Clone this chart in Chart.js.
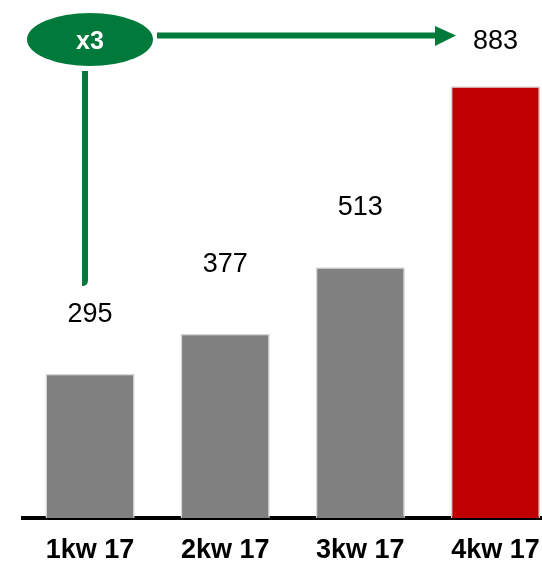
<!DOCTYPE html>
<html>
<head>
<meta charset="utf-8">
<script src="https://cdn.jsdelivr.net/npm/chart.js@4"></script>
<style>
  html, body { margin: 0; padding: 0; overflow: hidden; background: #fff; }
  #wrap { width: 542px; height: 568px; overflow: hidden; }
</style>
</head>
<body>
<div id="wrap"><canvas id="quarterChart" width="563" height="568"></canvas></div>
<script>
const quarters = ['1kw 17', '2kw 17', '3kw 17', '4kw 17'];
const values = [295, 377, 513, 883];
const barColors = ['#808080', '#808080', '#808080', '#C00000'];
const growthLabel = 'x3';

const GREEN = '#007A3A';

// value labels above bars (distance from bar top differs a bit per bar in the original)
const labelOffsets = [59, 69, 60, 45];

const valueLabels = {
  id: 'valueLabels',
  afterDatasetsDraw(chart) {
    const ctx = chart.ctx;
    const meta = chart.getDatasetMeta(0);
    ctx.save();
    ctx.font = '27px "Liberation Sans", Arial, sans-serif';
    ctx.fillStyle = '#000';
    ctx.textAlign = 'center';
    ctx.textBaseline = 'middle';
    meta.data.forEach(function(bar, i) {
      ctx.fillText(String(values[i]), bar.x, bar.y - labelOffsets[i]);
    });
    ctx.restore();
  }
};

const growthArrow = {
  id: 'growthArrow',
  afterDraw(chart) {
    const ctx = chart.ctx;
    ctx.save();
    ctx.strokeStyle = GREEN;
    ctx.fillStyle = GREEN;
    ctx.lineWidth = 6;

    // vertical line
    ctx.beginPath();
    ctx.moveTo(85, 71);
    ctx.lineTo(85, 280);
    ctx.quadraticCurveTo(85, 283, 82, 283);
    ctx.stroke();

    // horizontal line
    ctx.beginPath();
    ctx.moveTo(157, 35.5);
    ctx.lineTo(437, 35.5);
    ctx.stroke();

    // arrow head
    ctx.beginPath();
    ctx.moveTo(435, 26);
    ctx.lineTo(456, 35.5);
    ctx.lineTo(435, 46);
    ctx.closePath();
    ctx.fill();

    // ellipse
    ctx.beginPath();
    ctx.ellipse(90, 39.5, 63, 26.5, 0, 0, Math.PI * 2);
    ctx.fill();

    ctx.fillStyle = '#fff';
    ctx.font = 'bold 25px "Liberation Sans", Arial, sans-serif';
    ctx.textAlign = 'center';
    ctx.textBaseline = 'middle';
    ctx.fillText(growthLabel, 90, 42);
    ctx.restore();
  }
};

const ctx = document.getElementById('quarterChart').getContext('2d');
const chart = new Chart(ctx, {
  type: 'bar',
  data: {
    labels: quarters,
    datasets: [{
      data: values,
      backgroundColor: barColors,
      borderColor: '#d6d6d6',
      borderWidth: 1.5,
      borderSkipped: 'bottom',
      categoryPercentage: 1,
      barPercentage: 0.66
    }]
  },
  options: {
    responsive: false,
    devicePixelRatio: 1,
    animation: false,
    layout: { padding: { left: 22.5, right: 0, top: 29, bottom: 0 } },
    plugins: {
      legend: { display: false },
      tooltip: { enabled: false }
    },
    scales: {
      y: {
        display: false,
        min: 0,
        max: 1000
      },
      x: {
        grid: { display: false, drawTicks: false },
        border: { display: true, color: '#000', width: 4 },
        ticks: {
          color: '#000',
          padding: 16,
          font: { family: '"Liberation Sans", Arial, sans-serif', size: 27, weight: 'bold' }
        },
        afterFit: function(scale) { scale.height = 50; }
      }
    }
  },
  plugins: [valueLabels, growthArrow]
});
</script>
</body>
</html>
